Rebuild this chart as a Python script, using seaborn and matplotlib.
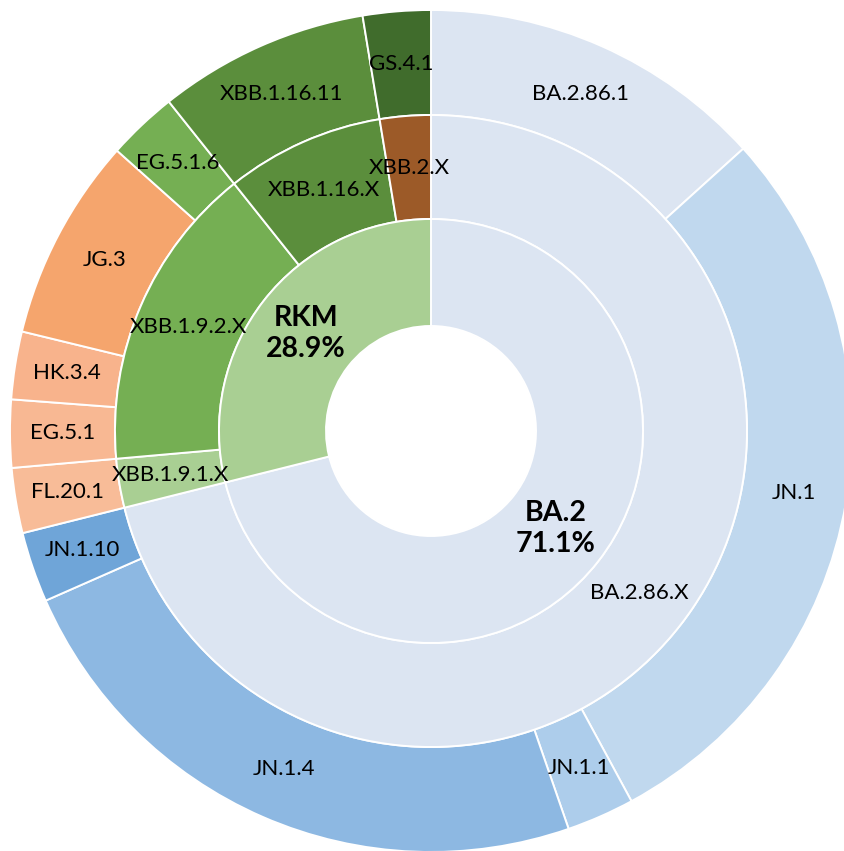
import matplotlib
matplotlib.use("Agg")
import numpy as np
import matplotlib.pyplot as plt
import seaborn as sns

# inner ring: lineages
inner_labels = ["BA.2\n71.1%", "RKM\n28.9%"]
inner_vals = [71.1, 28.9]
inner_colors = ["#DCE5F2", "#A9CF93"]

# middle ring: groups
mid_labels = ["BA.2.86.X", "XBB.1.9.1.X", "XBB.1.9.2.X", "XBB.1.16.X", "XBB.2.X"]
mid_vals = [71.1, 2.5, 15.7, 8.1, 2.6]
mid_colors = ["#DCE5F2", "#A9CF93", "#75AF53", "#5B8E3C", "#9C5A28"]

# outer ring: variants
outer_labels = ["BA.2.86.1", "JN.1", "JN.1.1", "JN.1.4", "JN.1.10",
                "FL.20.1", "EG.5.1", "HK.3.4", "JG.3", "EG.5.1.6",
                "XBB.1.16.11", "GS.4.1"]
outer_vals = [13.3, 28.8, 2.6, 23.7, 2.7,
              2.5, 2.6, 2.6, 7.8, 2.7,
              8.1, 2.6]
outer_colors = ["#DCE5F2", "#C0D8EE", "#ADCDEB", "#8DB8E2", "#6FA5D8",
                "#F8BC98", "#F8B893", "#F8B38C", "#F5A56D", "#75AF53",
                "#5B8E3C", "#406C2C"]

sns.set_theme(style="white")
plt.rcParams['font.family'] = ['Lato', 'DejaVu Sans']

fig = plt.figure(figsize=(8.45, 8.51), dpi=100)
ax = fig.add_axes([0, 0, 1, 1])

rings = [
    (outer_vals, outer_colors, outer_labels, 421, 105, False),
    (mid_vals, mid_colors, mid_labels, 316, 104, False),
    (inner_vals, inner_colors, inner_labels, 212, 107, True),
]
for vals, cols, labs, r, w, bold in rings:
    ax.pie(vals, radius=r, colors=cols, startangle=90, counterclock=False,
           wedgeprops=dict(width=w, edgecolor="white", linewidth=1.4))
    # label at mid angle, mid radius of each wedge
    total = sum(vals)
    cum = np.cumsum([0] + list(vals))
    rm = r - w / 2
    for i, lab in enumerate(labs):
        mid = (cum[i] + cum[i + 1]) / 2 / total * 360
        ang = np.deg2rad(90 - mid)
        ax.text(rm * np.cos(ang), rm * np.sin(ang), lab,
                ha="center", va="center", fontsize=20.5 if bold else 16,
                fontweight="bold" if bold else "normal", color="black",
                linespacing=1.25)

ax.set_xlim(-431, 414)
ax.set_ylim(-420, 431)
ax.set_aspect("equal")
ax.axis("off")

fig.savefig("out.png", dpi=100)
